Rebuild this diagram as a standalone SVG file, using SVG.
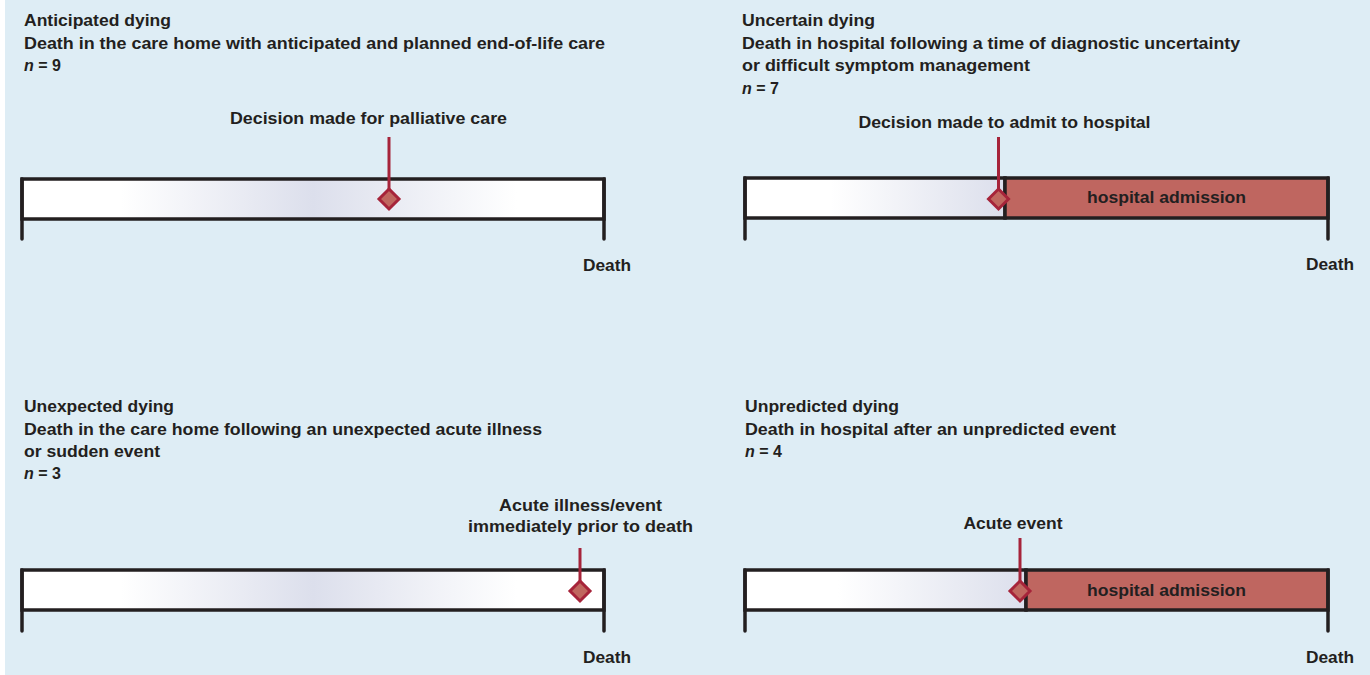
<svg xmlns="http://www.w3.org/2000/svg" width="1370" height="675" viewBox="0 0 1370 675">
<defs>
<linearGradient id="gFull" x1="0" y1="0" x2="1" y2="0">
<stop offset="0" stop-color="#ffffff"/>
<stop offset="0.17" stop-color="#ffffff"/>
<stop offset="0.5" stop-color="#dcdfec"/>
<stop offset="0.85" stop-color="#ffffff"/>
<stop offset="1" stop-color="#ffffff"/>
</linearGradient>
<linearGradient id="gHalf" x1="0" y1="0" x2="1" y2="0">
<stop offset="0" stop-color="#ffffff"/>
<stop offset="0.33" stop-color="#ffffff"/>
<stop offset="1" stop-color="#dcdfec"/>
</linearGradient>
<style>
text{font-family:"Liberation Sans Narrow","Liberation Sans",Arial,sans-serif;font-weight:bold;font-size:16px;fill:#231f20}
.mid{text-anchor:middle}
.bar{stroke:#231f20;stroke-width:3.5}
.tick{stroke:#231f20;stroke-width:3.5;stroke-linecap:round;fill:none}
.hosp{fill:#bf6660;stroke:#231f20;stroke-width:3.5}
.pin{stroke:#a6243a;stroke-width:3;fill:none}
.dia{fill:#c0675f;stroke:#a6243a;stroke-width:3;stroke-linejoin:miter}
</style>
</defs>
<rect x="0" y="0" width="1370" height="675" fill="#ffffff"/>
<rect x="5" y="0" width="1365" height="675" fill="#deedf5"/>

<g id="anticipated">
<text x="24" y="26" textLength="147" lengthAdjust="spacingAndGlyphs">Anticipated dying</text>
<text x="24" y="49" textLength="581" lengthAdjust="spacingAndGlyphs">Death in the care home with anticipated and planned end-of-life care</text>
<text x="24" y="71"><tspan font-style="italic">n</tspan> = 9</text>
<rect x="22" y="179" width="582" height="40" fill="url(#gFull)" class="bar"/>
<path class="tick" d="M22 179V239M604 179V239"/>
<text x="368.5" y="124" class="mid" textLength="277" lengthAdjust="spacingAndGlyphs">Decision made for palliative care</text>
<text x="607" y="271" class="mid" textLength="48" lengthAdjust="spacingAndGlyphs">Death</text>
</g>

<g id="uncertain">
<text x="742" y="26" textLength="133" lengthAdjust="spacingAndGlyphs">Uncertain dying</text>
<text x="742" y="49" textLength="498" lengthAdjust="spacingAndGlyphs">Death in hospital following a time of diagnostic uncertainty</text>
<text x="742" y="71" textLength="288" lengthAdjust="spacingAndGlyphs">or difficult symptom management</text>
<text x="742" y="94"><tspan font-style="italic">n</tspan> = 7</text>
<rect x="745" y="178" width="260" height="40" fill="url(#gHalf)" class="bar"/>
<rect x="1005" y="178" width="323" height="40" class="hosp"/>
<path class="tick" d="M745 178V239M1328 178V239"/>
<text x="1004.5" y="128" class="mid" textLength="292" lengthAdjust="spacingAndGlyphs">Decision made to admit to hospital</text>
<text x="1166.5" y="203" class="mid" textLength="159" lengthAdjust="spacingAndGlyphs">hospital admission</text>
<text x="1330" y="270" class="mid" textLength="48" lengthAdjust="spacingAndGlyphs">Death</text>
</g>

<g id="unexpected">
<text x="24" y="412" textLength="150" lengthAdjust="spacingAndGlyphs">Unexpected dying</text>
<text x="24" y="435" textLength="518" lengthAdjust="spacingAndGlyphs">Death in the care home following an unexpected acute illness</text>
<text x="24" y="457" textLength="136" lengthAdjust="spacingAndGlyphs">or sudden event</text>
<text x="24" y="479"><tspan font-style="italic">n</tspan> = 3</text>
<rect x="22" y="570" width="582" height="40" fill="url(#gFull)" class="bar"/>
<path class="tick" d="M22 570V631M604 570V631"/>
<text x="580.5" y="511" class="mid" textLength="163" lengthAdjust="spacingAndGlyphs">Acute illness/event</text>
<text x="580.5" y="532" class="mid" textLength="225" lengthAdjust="spacingAndGlyphs">immediately prior to death</text>
<text x="607" y="663" class="mid" textLength="48" lengthAdjust="spacingAndGlyphs">Death</text>
</g>

<g id="unpredicted">
<text x="745" y="412" textLength="154" lengthAdjust="spacingAndGlyphs">Unpredicted dying</text>
<text x="745" y="435" textLength="371" lengthAdjust="spacingAndGlyphs">Death in hospital after an unpredicted event</text>
<text x="745" y="457"><tspan font-style="italic">n</tspan> = 4</text>
<rect x="745" y="570" width="281" height="40" fill="url(#gHalf)" class="bar"/>
<rect x="1026" y="570" width="302" height="40" class="hosp"/>
<path class="tick" d="M745 570V631M1328 570V631"/>
<text x="1013" y="529" class="mid" textLength="99" lengthAdjust="spacingAndGlyphs">Acute event</text>
<text x="1166.5" y="596" class="mid" textLength="159" lengthAdjust="spacingAndGlyphs">hospital admission</text>
<text x="1330" y="663" class="mid" textLength="48" lengthAdjust="spacingAndGlyphs">Death</text>
</g>

<g id="connectors">
<path class="pin" d="M389 137V189"/>
<path class="dia" d="M389 189L399 199L389 209L379 199Z"/>
<path class="pin" d="M998.5 137V189"/>
<path class="dia" d="M998.5 189L1008.5 199L998.5 209L988.5 199Z"/>
<path class="pin" d="M580 548V581"/>
<path class="dia" d="M580 581L590 591L580 601L570 591Z"/>
<path class="pin" d="M1020 538V581"/>
<path class="dia" d="M1020 581L1030 591L1020 601L1010 591Z"/>
</g>
</svg>
